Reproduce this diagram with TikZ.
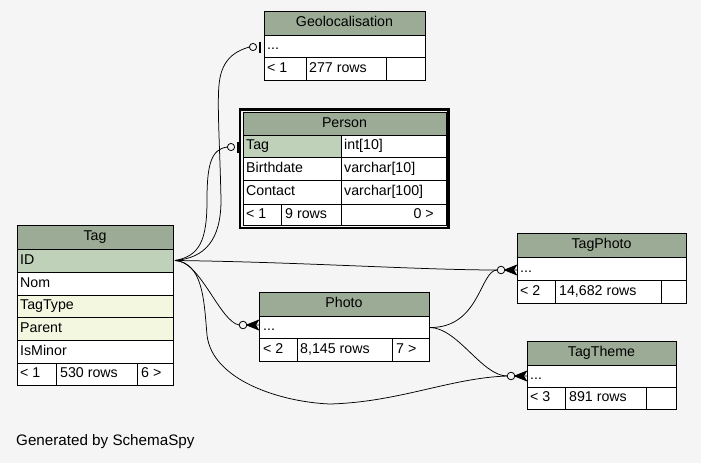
\documentclass[tikz,border=0pt]{standalone}
\usepackage{fontspec}
\setmainfont{Liberation Sans}
\definecolor{bgc}{HTML}{F5F5F5}
\definecolor{hdrc}{HTML}{9CAB96}
\definecolor{keyc}{HTML}{BFD1B9}
\definecolor{fkc}{HTML}{F4F7E0}
\begin{document}
\begin{tikzpicture}[x=1pt,y=-1pt,
  tbl/.style={draw=black,line width=0.9pt},
  ltxt/.style={font=\fontsize{14.2}{16}\selectfont,inner sep=0pt,anchor=west,text height=10pt,text depth=2.6pt},
  ctxt/.style={font=\fontsize{14.2}{16}\selectfont,inner sep=0pt,anchor=center,text height=10pt,text depth=2.6pt},
  rtxt/.style={font=\fontsize{14.2}{16}\selectfont,inner sep=0pt,anchor=east,text height=10pt,text depth=2.6pt},
  conn/.style={draw=black,line width=0.75pt},
  zeroone/.pic={\draw[line width=0.8pt,fill=bgc] (-11,0) circle[radius=3.6]; \draw[line width=2.2pt] (-4,-5.5) -- (-4,5.5);},
  zeromany/.pic={\draw[line width=0.8pt,fill=bgc] (-16,0) circle[radius=3.8]; \fill (-12.5,0) -- (0,-5) -- (-3,0) -- (0,5) -- cycle; \draw[line width=0.8pt] (-12.5,0) -- (0,-5) (-12.5,0) -- (0,0) (-12.5,0) -- (0,5);}
]
\useasboundingbox (0,0) rectangle (701,463);
\fill[bgc] (0,0) rectangle (701,463);

% ---------- coordinates for connectors ----------
\coordinate (tagS) at (175,260.5);
\coordinate (photoS) at (430,327.5);
\coordinate (geoE) at (264,47);
\coordinate (geoEnd) at (249.4,47);
\coordinate (perE) at (242,147);
\coordinate (perEnd) at (227.4,147);
\coordinate (tpE) at (517,270);
\coordinate (tpEnd) at (497.2,270);
\coordinate (phE) at (259,325);
\coordinate (phEnd) at (239.2,325);
\coordinate (ttE) at (527,376);
\coordinate (ttEnd) at (507.2,376);

% ---------- connectors ----------
\draw[conn] (tagS) .. controls (205,258) and (221,240) .. (221,200) .. controls (220,150) and (217,105) .. (219,85) .. controls (221,62) and (232,52) .. (geoEnd);
\draw[conn] (tagS) .. controls (200,256) and (207,240) .. (207,200) .. controls (207,165) and (211,149) .. (perEnd);
\draw[conn] (tagS) .. controls (300,262) and (420,270) .. (tpEnd);
\draw[conn] (tagS) .. controls (200,260) and (220,322) .. (phEnd);
\draw[conn] (tagS) .. controls (203,263) and (204,300) .. (207,335) .. controls (212,380) and (280,402) .. (330,404) .. controls (400,402) and (450,378) .. (ttEnd);
\draw[conn] (photoS) .. controls (480,328) and (480,270) .. (tpEnd);
\draw[conn] (photoS) .. controls (458,328) and (482,376) .. (ttEnd);

% ---------- Geolocalisation ----------
\fill[white] (264,11) rectangle (425,80);
\fill[hdrc] (264,11) rectangle (425,35);
\draw[tbl] (264,11) rectangle (425,80) (264,35) -- (425,35) (264,57) -- (425,57) (306,57) -- (306,80) (386,57) -- (386,80);
\node[ctxt] (geoH) at (344.5,23) {Geolocalisation};
\node[ltxt] (geoR) at (267,46) {...};
\node[ltxt] (geoF1) at (267,68.5) {< 1};
\node[ltxt] (geoF2) at (309,68.5) {277 rows};
\pic at (geoE) {zeroone};

% ---------- Person ----------
\pic at (perE) {zeroone};
\fill[white] (243,112) rectangle (446,225);
\fill[hdrc] (243,112) rectangle (446,135);
\fill[keyc] (243,135) rectangle (341,157);
\draw[tbl] (243,112) rectangle (446,225) (243,135) -- (446,135) (243,157) -- (446,157) (243,180) -- (446,180) (243,204) -- (446,204) (341,135) -- (341,225) (281,204) -- (281,225);
\draw[line width=2.6pt] (239.8,109.3) rectangle (448.7,228);
\node[ctxt] (perH) at (344.5,123.5) {Person};
\node[ltxt] (perR1a) at (246,146) {Tag};
\node[ltxt] (perR1b) at (344,146) {int[10]};
\node[ltxt] (perR2a) at (246,168.5) {Birthdate};
\node[ltxt] (perR2b) at (344,168.5) {varchar[10]};
\node[ltxt] (perR3a) at (246,192) {Contact};
\node[ltxt] (perR3b) at (344,192) {varchar[100]};
\node[ltxt] (perF1) at (246,214.5) {< 1};
\node[ltxt] (perF2) at (285,214.5) {9 rows};
\node[rtxt] (perF3) at (434,214.5) {0 >};

% ---------- Tag ----------
\fill[white] (17,225) rectangle (173,385);
\fill[hdrc] (17,225) rectangle (173,249);
\fill[keyc] (17,249) rectangle (173,272);
\fill[fkc] (17,295) rectangle (173,340);
\draw[tbl] (17,225) rectangle (173,385) (17,249) -- (173,249) (17,272) -- (173,272) (17,295) -- (173,295) (17,317) -- (173,317) (17,340) -- (173,340) (17,363) -- (173,363) (56,363) -- (56,385) (137,363) -- (137,385);
\node[ctxt] (tagH) at (95,237) {Tag};
\node[ltxt] (tagR1) at (20,260.5) {ID};
\node[ltxt] (tagR2) at (20,283.5) {Nom};
\node[ltxt] (tagR3) at (20,306) {TagType};
\node[ltxt] (tagR4) at (20,328.5) {Parent};
\node[ltxt] (tagR5) at (20,351.5) {IsMinor};
\node[ltxt] (tagF1) at (20,374) {< 1};
\node[ltxt] (tagF2) at (60,374) {530 rows};
\node[ltxt] (tagF3) at (141,374) {6 >};

% ---------- TagPhoto ----------
\fill[white] (517,233) rectangle (686,303);
\fill[hdrc] (517,233) rectangle (686,257);
\draw[tbl] (517,233) rectangle (686,303) (517,257) -- (686,257) (517,280) -- (686,280) (555,280) -- (555,303) (661,280) -- (661,303);
\node[ctxt] (tpH) at (601.5,245) {TagPhoto};
\node[ltxt] (tpR) at (520,268.5) {...};
\node[ltxt] (tpF1) at (520,291.5) {< 2};
\node[ltxt] (tpF2) at (559,291.5) {14,682 rows};
\pic at (tpE) {zeromany};

% ---------- Photo ----------
\fill[white] (259,292) rectangle (429,361);
\fill[hdrc] (259,292) rectangle (429,316);
\draw[tbl] (259,292) rectangle (429,361) (259,316) -- (429,316) (259,338.5) -- (429,338.5) (297,338.5) -- (297,361) (392,338.5) -- (392,361);
\node[ctxt] (phH) at (344,304) {Photo};
\node[ltxt] (phR) at (263,327) {...};
\node[ltxt] (phF1) at (263,350) {< 2};
\node[ltxt] (phF2) at (300,350) {8,145 rows};
\node[ltxt] (phF3) at (396,350) {7 >};
\pic at (phE) {zeromany};

% ---------- TagTheme ----------
\fill[white] (527,341) rectangle (676,409);
\fill[hdrc] (527,341) rectangle (676,365);
\draw[tbl] (527,341) rectangle (676,409) (527,365) -- (676,365) (527,387) -- (676,387) (565,387) -- (565,409) (646,387) -- (646,409);
\node[ctxt] (ttH) at (601.5,353) {TagTheme};
\node[ltxt] (ttR) at (530,376) {...};
\node[ltxt] (ttF1) at (530,398) {< 3};
\node[ltxt] (ttF2) at (569,398) {891 rows};
\pic at (ttE) {zeromany};

% ---------- footer ----------
\node[ltxt,font=\fontsize{15.2}{17}\selectfont] (gen) at (16,441.5) {Generated by SchemaSpy};
\end{tikzpicture}
\end{document}
